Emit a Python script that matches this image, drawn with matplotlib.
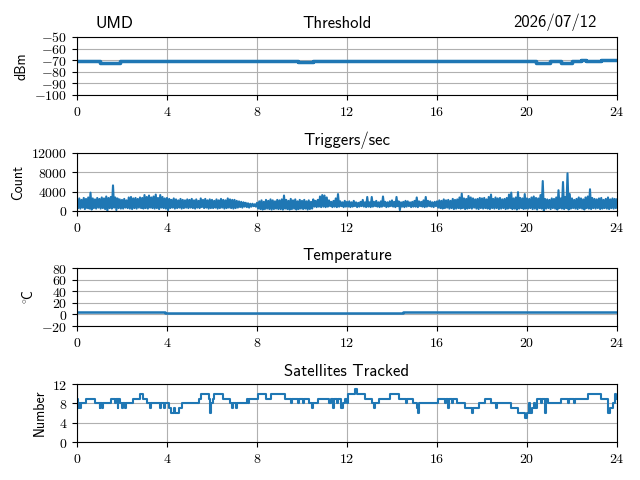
import matplotlib
matplotlib.use("Agg")
import matplotlib.pyplot as plt
from matplotlib.ticker import FuncFormatter
import numpy as np

plt.rcParams['mathtext.fontset'] = 'cm'
plt.rcParams['axes.formatter.use_mathtext'] = True

# ---------------- data ----------------
hours_ticks = [0, 4, 8, 12, 16, 20, 24]

thr_t = [0.0, 1.0, 1.9, 9.8, 10.5, 20.4, 21.0, 21.5, 22.0, 22.4, 22.6, 23.3, 24.0]
thr_v = [-71, -72, -71, -71.5, -71, -72, -71, -72, -71, -69.5, -71, -70, -70]

trig_t = [i / 10 for i in range(241)]
trig_hi = [
    2400, 2600, 2300, 2700, 2500, 2800, 3800, 2600, 2400, 2700,
    2500, 2800, 2600, 3000, 2700, 2900, 5300, 2800, 2600, 2400,
    2300, 2500, 2200, 2800, 2900, 2600, 2700, 2500, 2800, 2700,
    3300, 2900, 3200, 2800, 3000, 3400, 2700, 3300, 2900, 2600,
    2700, 2500, 2300, 2600, 2400, 2200, 2500, 2300, 2200, 2400,
    2300, 2500, 2200, 2400, 2100, 2600, 2300, 2500, 2200, 2400,
    2300, 2100, 2400, 2200, 2500, 2300, 2200, 2600, 2400, 2300,
    2300, 2100, 2000, 1900, 1800, 1700, 1600, 1500, 1500, 1400,
    1700, 2000, 2200, 1900, 2300, 2100, 2400, 2200, 2000, 2300,
    2200, 2400, 3200, 2300, 2100, 2500, 2200, 2400, 2000, 2300,
    2100, 2300, 2000, 2200, 1900, 2400, 2100, 2300, 3000, 3300,
    3200, 2800, 2200, 1900, 2100, 2600, 3500, 2000, 1800, 2100,
    1900, 2000, 1800, 2100, 1800, 1700, 1900, 2300, 1800, 2900,
    1800, 2900, 1900, 2100, 1800, 2000, 3000, 1900, 1800, 2000,
    2200, 1900, 2900, 2000, 1800, 1900, 2100, 2000, 1800, 1900,
    2100, 2800, 2000, 1900, 2200, 2900, 2100, 2000, 1800, 1900,
    2000, 2200, 2100, 2400, 2200, 2300, 2100, 2500, 2300, 2400,
    2800, 3600, 2600, 2500, 3100, 2800, 2600, 2400, 2500, 2700,
    2600, 2700, 2400, 2900, 3400, 2500, 2800, 2600, 2700, 2400,
    2500, 2700, 3400, 3800, 2600, 2800, 3900, 2700, 2600, 3500,
    2600, 2500, 2800, 3000, 2700, 2600, 3300, 6200, 2500, 2400,
    2300, 2600, 2500, 2800, 4300, 2600, 6000, 2900, 7800, 3500,
    2600, 2300, 2500, 2800, 2600, 2400, 2800, 3000, 4500, 2700,
    2500, 2400, 2600, 2700, 2300, 2500, 2800, 2400, 2600, 2500,
    2400]
trig_lo = [
    600, 500, 700, 400, 600, 500, 300, 600, 500, 700,
    500, 600, 400, 0, 600, 500, 700, 200, 600, 500,
    500, 700, 600, 500, 400, 600, 500, 700, 600, 500,
    600, 500, 700, 600, 500, 600, 400, 700, 600, 500,
    200, 600, 700, 500, 600, 700, 500, 600, 700, 600,
    700, 600, 500, 700, 600, 800, 600, 700, 500, 600,
    600, 700, 500, 600, 700, 500, 600, 700, 600, 500,
    600, 700, 800, 700, 900, 800, 700, 900, 1000, 900,
    500, 400, 300, 400, 500, 400, 300, 400, 500, 400,
    400, 300, 500, 400, 300, 400, 500, 300, 400, 500,
    400, 500, 300, 400, 500, 900, 800, 900, 800, 900,
    800, 900, 1000, 800, 900, 800, 900, 1000, 800, 900,
    900, 800, 900, 1000, 800, 900, 1000, 900, 800, 900,
    800, 900, 1000, 900, 800, 900, 1000, 800, 900, 1000,
    900, 800, 1000, 200, 900, 800, 900, 1000, 800, 900,
    900, 800, 1000, 900, 800, 900, 1000, 900, 800, 1000,
    700, 600, 500, 600, 700, 500, 600, 400, 500, 600,
    500, 600, 400, 500, 600, 500, 700, 500, 400, 600,
    500, 600, 500, 400, 600, 500, 600, 400, 500, 600,
    400, 500, 600, 400, 500, 300, 500, 600, 400, 500,
    500, 600, 400, 500, 300, 600, 500, 0, 500, 600,
    400, 600, 500, 300, 600, 500, 400, 600, 300, 500,
    600, 500, 400, 600, 500, 300, 600, 500, 400, 600,
    500, 600, 400, 500, 600, 500, 400, 600, 500, 600,
    500]

temp_t = [0.0, 3.9, 14.5, 24.0]
temp_v = [5, 3, 5, 5]

sat_t = [0.00, 0.05, 0.10, 0.14, 0.18, 0.42, 0.80, 1.00, 1.04, 1.12, 1.16, 1.50,
         1.70, 1.74, 1.80, 1.84, 1.92, 2.00, 2.06, 2.12, 2.16, 2.50, 2.80, 2.95,
         3.12, 3.25, 3.29, 3.70, 3.74, 3.85, 3.89, 4.10, 4.18, 4.30, 4.36, 4.55,
         4.65, 5.40, 5.52, 5.85, 5.90, 5.96, 6.05, 6.10, 6.50, 6.80, 6.90, 6.94,
         7.05, 7.09, 7.55, 7.62, 7.66, 8.05, 8.40, 8.62, 9.25, 9.50, 9.55,
         9.80, 9.85, 10.05, 10.10, 10.30, 10.45, 10.50, 10.70, 11.20, 11.28, 11.36,
         11.40, 11.55, 11.62, 11.75, 11.80, 11.90, 12.00, 12.05, 12.35, 12.45, 12.80,
         13.10, 13.20, 13.25, 13.40, 13.90, 14.30, 14.60, 14.65, 14.95, 15.10, 15.15,
         15.22, 16.05, 16.35, 16.40, 16.50, 16.55, 16.65, 16.70, 16.90, 17.25, 17.55,
         17.60, 17.85, 18.15, 18.40, 18.60, 18.65, 19.30, 19.60, 19.92, 19.98, 20.10,
         20.15, 20.22, 20.30, 20.35, 20.45, 20.60, 20.65, 20.80, 20.85, 20.95, 21.50,
         21.80, 21.85, 22.10, 22.14, 22.70, 23.30, 23.60, 23.70, 23.80, 23.90, 23.97,
         24.00]
sat_v = [9, 7, 8, 7, 8, 9, 8, 7, 8, 7, 8, 9,
         8, 9, 7, 9, 8, 7, 8, 7, 8, 9, 10, 9,
         8, 7, 8, 7, 8, 7, 8, 7, 6, 7, 6, 7,
         8, 9, 10, 9, 6, 8, 9, 10, 9, 8, 7, 8,
         7, 8, 9, 8, 9, 10, 9, 10, 9, 8, 9,
         8, 9, 8, 9, 8, 7, 8, 9, 8, 9, 7,
         9, 8, 9, 7, 8, 9, 8, 10, 11, 10, 9,
         8, 7, 8, 9, 10, 9, 8, 9, 8, 7, 6,
         8, 9, 8, 9, 7, 9, 8, 9, 8, 7, 6,
         7, 8, 9, 8, 7, 8, 7, 6, 5, 6, 8,
         6, 7, 8, 7, 9, 8, 9, 6, 9, 8, 9,
         8, 9, 8, 9, 10, 9, 6, 7, 8, 10, 9,
         9]

# -------------- figure --------------
fig = plt.figure(figsize=(6.4, 4.8), dpi=100)
L, W, H = 77 / 640, 540 / 640, 58 / 480
tops = [37, 153, 268, 384]
axes = [fig.add_axes([L, 1 - (t + 58) / 480, W, H]) for t in tops]

def mfmt(v, pos):
    return r'$%d$' % int(round(v))

color = '#1f77b4'
SF = 'cmss10'

# Threshold
ax = axes[0]
ax.plot(thr_t, thr_v, drawstyle='steps-post', color=color, lw=2.5)
ax.set_ylim(-100, -50)
ax.set_yticks([-100, -90, -80, -70, -60, -50])
ax.set_ylabel('dBm', family=SF, fontsize=10)
ax.text(0.035, 1.1, 'UMD', transform=ax.transAxes, fontsize=12, family=SF, ha='left', va='bottom')
ax.text(0.482, 1.1, 'Threshold', transform=ax.transAxes, fontsize=12, family=SF, ha='center', va='bottom')
ax.text(0.963, 1.1, '2026/07/12', transform=ax.transAxes, fontsize=12, family=SF, ha='right', va='bottom')

# Triggers
ax = axes[1]
tt = []
tv = []
for t, hi, lo in zip(trig_t, trig_hi, trig_lo):
    tt += [t, t + 0.05]
    tv += [hi, lo]
ax.plot(tt[:-1], tv[:-1], color=color, lw=1.5)
ax.set_ylim(0, 12000)
ax.set_yticks([0, 4000, 8000, 12000])
ax.set_ylabel('Count', family=SF, fontsize=10)
ax.set_title('Triggers/sec', family=SF, fontsize=12)

# Temperature
ax = axes[2]
ax.plot(temp_t, temp_v, drawstyle='steps-post', color=color, lw=1.8)
ax.set_ylim(-20, 80)
ax.set_yticks([-20, 0, 20, 40, 60, 80])
ax.set_ylabel(r'$^{\circ}\!$C', family=SF, fontsize=10)
ax.set_title('Temperature', family=SF, fontsize=12)

# Satellites
ax = axes[3]
ax.plot(sat_t, sat_v, drawstyle='steps-post', color=color, lw=1.5)
ax.set_ylim(0, 12)
ax.set_yticks([0, 4, 8, 12])
ax.set_ylabel('Number', family=SF, fontsize=10)
ax.set_title('Satellites Tracked', family=SF, fontsize=12)

for ax in axes:
    ax.set_xlim(0, 24)
    ax.set_xticks(hours_ticks)
    ax.xaxis.set_major_formatter(FuncFormatter(mfmt))
    ax.yaxis.set_major_formatter(FuncFormatter(mfmt))
    ax.grid(True, color='#b0b0b0', lw=0.8)
    ax.set_axisbelow(True)
    ax.tick_params(labelsize=10)

fig.savefig('out.png', dpi=100)
